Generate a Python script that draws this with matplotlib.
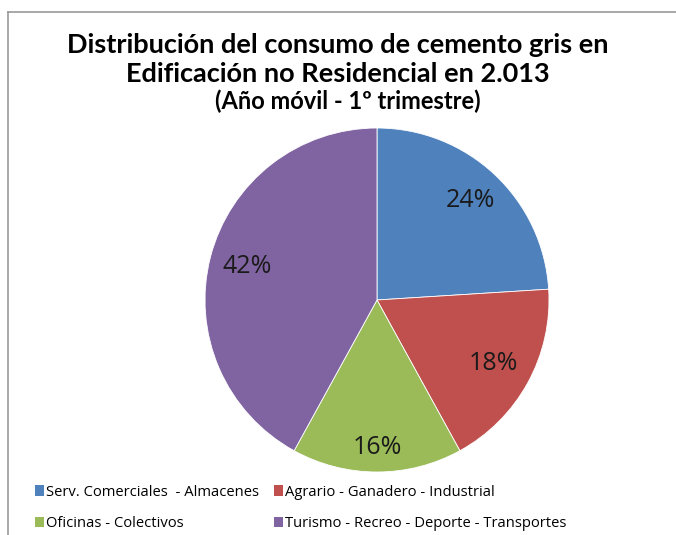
import numpy as np
import matplotlib.pyplot as plt
from matplotlib.lines import Line2D
from matplotlib.patches import Patch

categories = ["Serv. Comerciales  - Almacenes",
              "Agrario - Ganadero - Industrial",
              "Oficinas - Colectivos",
              "Turismo - Recreo - Deporte - Transportes"]
shares = [24, 18, 16, 42]
colors = ["#4F81BD", "#C0504D", "#9BBB59", "#8064A2"]

W, H = 676, 535
fig = plt.figure(figsize=(W / 100, H / 100), dpi=100)
fig.patch.set_facecolor("white")

# pie area: centre (377, 300), radius ~172 px
cx, cy, r = 377, 300, 172
ax = fig.add_axes([(cx - r) / W, 1 - (cy + r) / H, 2 * r / W, 2 * r / H])
wedges, _ = ax.pie(shares, colors=colors, startangle=90, counterclock=False,
                   wedgeprops=dict(edgecolor="white", linewidth=0.6))
ax.set_xlim(-1, 1)
ax.set_ylim(-1, 1)
ax.set_aspect("equal")

dist = [0.79, 0.77, 0.86, 0.78]
for w, val, d in zip(wedges, shares, dist):
    ang = np.deg2rad((w.theta1 + w.theta2) / 2)
    ax.text(d * np.cos(ang), d * np.sin(ang), f"{val}%", ha="center", va="center",
            fontsize=18, family="Open Sans", color="#1a1a1a")

# title
fig.text(338 / W, 1 - 45 / H, "Distribución del consumo de cemento gris en",
         ha="center", va="center", fontsize=19.5, fontweight="bold", family="Lato")
fig.text(338 / W, 1 - 74 / H, "Edificación no Residencial en 2.013",
         ha="center", va="center", fontsize=19.5, fontweight="bold", family="Lato")
fig.text(348 / W, 1 - 101 / H, "(Año móvil - 1º trimestre)",
         ha="center", va="center", fontsize=17, fontweight="bold", family="Lato")

# legend (row-major order as in the original)
order = [0, 2, 1, 3]
handles = [Patch(facecolor=colors[i], edgecolor="none") for i in order]
labels = [categories[i] for i in order]
fig.legend(handles, labels, ncol=2, loc="center left",
           bbox_to_anchor=(22 / W, 1 - 508 / H), frameon=False,
           prop=dict(family="Open Sans", size=10.6), handlelength=0.6,
           handleheight=0.7, handletextpad=0.15, columnspacing=1.0,
           labelspacing=1.15)

# chart frame (left and top edges only visible)
fig.add_artist(Line2D([8 / W, 8 / W], [0, 1 - 12 / H], color="#999999", lw=1.2,
                      transform=fig.transFigure))
fig.add_artist(Line2D([8 / W, 1], [1 - 12 / H, 1 - 12 / H], color="#999999", lw=1.2,
                      transform=fig.transFigure))

fig.savefig("out.png", dpi=100)
